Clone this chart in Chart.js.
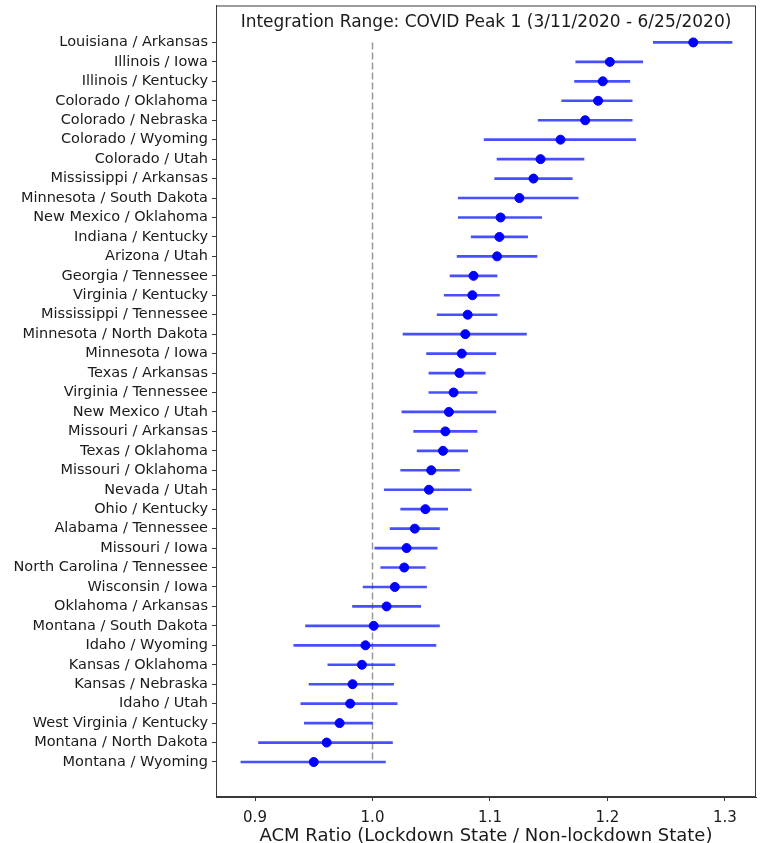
<!DOCTYPE html>
<html>
<head>
<meta charset="utf-8">
<script src="https://cdn.jsdelivr.net/npm/chart.js@4/dist/chart.umd.min.js"></script>
<style>
  body { margin: 0; background: #fff; }
  #chart { display: block; }
</style>
</head>
<body>
<canvas id="chart" width="770" height="843"></canvas>
<script>
// state pairs, top to bottom
const pairs = [
  "Louisiana / Arkansas", "Illinois / Iowa", "Illinois / Kentucky", "Colorado / Oklahoma",
  "Colorado / Nebraska", "Colorado / Wyoming", "Colorado / Utah", "Mississippi / Arkansas",
  "Minnesota / South Dakota", "New Mexico / Oklahoma", "Indiana / Kentucky", "Arizona / Utah",
  "Georgia / Tennessee", "Virginia / Kentucky", "Mississippi / Tennessee", "Minnesota / North Dakota",
  "Minnesota / Iowa", "Texas / Arkansas", "Virginia / Tennessee", "New Mexico / Utah",
  "Missouri / Arkansas", "Texas / Oklahoma", "Missouri / Oklahoma", "Nevada / Utah",
  "Ohio / Kentucky", "Alabama / Tennessee", "Missouri / Iowa", "North Carolina / Tennessee",
  "Wisconsin / Iowa", "Oklahoma / Arkansas", "Montana / South Dakota", "Idaho / Wyoming",
  "Kansas / Oklahoma", "Kansas / Nebraska", "Idaho / Utah", "West Virginia / Kentucky",
  "Montana / North Dakota", "Montana / Wyoming"
];

const ratio = [
  1.273, 1.202, 1.196, 1.192, 1.181, 1.160, 1.143, 1.137,
  1.125, 1.109, 1.108, 1.106, 1.086, 1.085, 1.081, 1.079,
  1.076, 1.074, 1.069, 1.065, 1.062, 1.060, 1.050, 1.048,
  1.045, 1.036, 1.029, 1.027, 1.019, 1.012, 1.001, 0.994,
  0.991, 0.983, 0.981, 0.972, 0.961, 0.950
];

const lower = [
  1.239, 1.173, 1.172, 1.161, 1.141, 1.095, 1.106, 1.104,
  1.073, 1.073, 1.084, 1.072, 1.066, 1.061, 1.055, 1.026,
  1.046, 1.048, 1.048, 1.025, 1.035, 1.038, 1.024, 1.010,
  1.024, 1.015, 1.002, 1.007, 0.992, 0.983, 0.943, 0.933,
  0.962, 0.946, 0.939, 0.942, 0.903, 0.888
];

const upper = [
  1.306, 1.230, 1.219, 1.221, 1.221, 1.224, 1.180, 1.170,
  1.175, 1.144, 1.132, 1.140, 1.106, 1.108, 1.106, 1.131,
  1.105, 1.096, 1.089, 1.105, 1.089, 1.081, 1.074, 1.084,
  1.064, 1.057, 1.055, 1.045, 1.046, 1.041, 1.057, 1.054,
  1.019, 1.018, 1.021, 1.000, 1.017, 1.011
];

const xTicks = [0.9, 1.0, 1.1, 1.2, 1.3];
const refValue = 1.0;
const titleText = "Integration Range: COVID Peak 1 (3/11/2020 - 6/25/2020)";
const xTitle = "ACM Ratio (Lockdown State / Non-lockdown State)";

const FONT = "'DejaVu Sans', sans-serif";

// title sits inside the axes + full frame around the plot
const framePlugin = {
  id: "frame",
  afterDraw(chart) {
    const { ctx, chartArea: a } = chart;
    ctx.save();
    ctx.strokeStyle = "#3a3a3a";
    ctx.lineWidth = 1;
    ctx.strokeRect(a.left + 0.5, a.top + 0.5, a.right - a.left - 1, a.bottom - a.top - 1);
    ctx.fillStyle = "#1a1a1a";
    ctx.font = "17px " + FONT;
    ctx.textAlign = "center";
    ctx.textBaseline = "middle";
    ctx.fillText(titleText, (a.left + a.right) / 2, a.top + 17);
    ctx.restore();
  }
};

new Chart(document.getElementById("chart"), {
  type: "bar",
  data: {
    datasets: [
      {
        type: "scatter",
        data: ratio.map((v, i) => ({ x: v, y: i })),
        backgroundColor: "#0000ff",
        borderColor: "#0000ff",
        pointRadius: 4.5,
        pointHoverRadius: 4.5,
        order: 0
      },
      {
        type: "bar",
        indexAxis: "y",
        data: pairs.map((p, i) => ({ y: i, x: [lower[i], upper[i]] })),
        backgroundColor: "rgba(30, 40, 255, 0.82)",
        barThickness: 2,
        order: 1
      },
      {
        type: "line",
        data: [{ x: refValue, y: 0 }, { x: refValue, y: pairs.length - 1 }],
        borderColor: "#999",
        borderWidth: 1.5,
        borderDash: [7, 3],
        pointRadius: 0,
        order: 2
      }
    ]
  },
  options: {
    responsive: false,
    animation: false,
    devicePixelRatio: 1,
    layout: { padding: { top: 5, right: 14, left: 0, bottom: 0 } },
    plugins: {
      legend: { display: false },
      tooltip: { enabled: false }
    },
    scales: {
      x: {
        type: "linear",
        offset: false,
        min: 0.8668,
        max: 1.3264,
        afterBuildTicks: s => { s.ticks = xTicks.map(v => ({ value: v })); },
        afterFit: s => { s.height = 46; s.paddingLeft = 0; s.paddingRight = 0; },
        grid: { drawOnChartArea: false, offset: false, tickLength: 4, color: "#3a3a3a" },
        border: { color: "#3a3a3a" },
        ticks: {
          color: "#1a1a1a",
          font: { family: FONT, size: 15 },
          padding: 8,
          maxRotation: 0,
          callback: v => v.toFixed(1)
        },
        title: {
          display: true,
          text: xTitle,
          color: "#1a1a1a",
          font: { family: FONT, size: 18 },
          padding: { top: 0, bottom: -4 }
        }
      },
      y: {
        type: "linear",
        offset: false,
        reverse: true,
        min: -1.9,
        max: pairs.length - 1 + 1.8,
        afterBuildTicks: s => { s.ticks = pairs.map((p, i) => ({ value: i })); },
        afterFit: s => { s.width = 216; s.paddingTop = 0; s.paddingBottom = 0; },
        grid: { drawOnChartArea: false, offset: false, tickLength: 4, color: "#3a3a3a" },
        border: { color: "#3a3a3a" },
        ticks: {
          color: "#1a1a1a",
          font: { family: FONT, size: 14.5 },
          padding: 4,
          autoSkip: false,
          callback: v => pairs[v]
        }
      }
    }
  },
  plugins: [framePlugin]
});
</script>
</body>
</html>
